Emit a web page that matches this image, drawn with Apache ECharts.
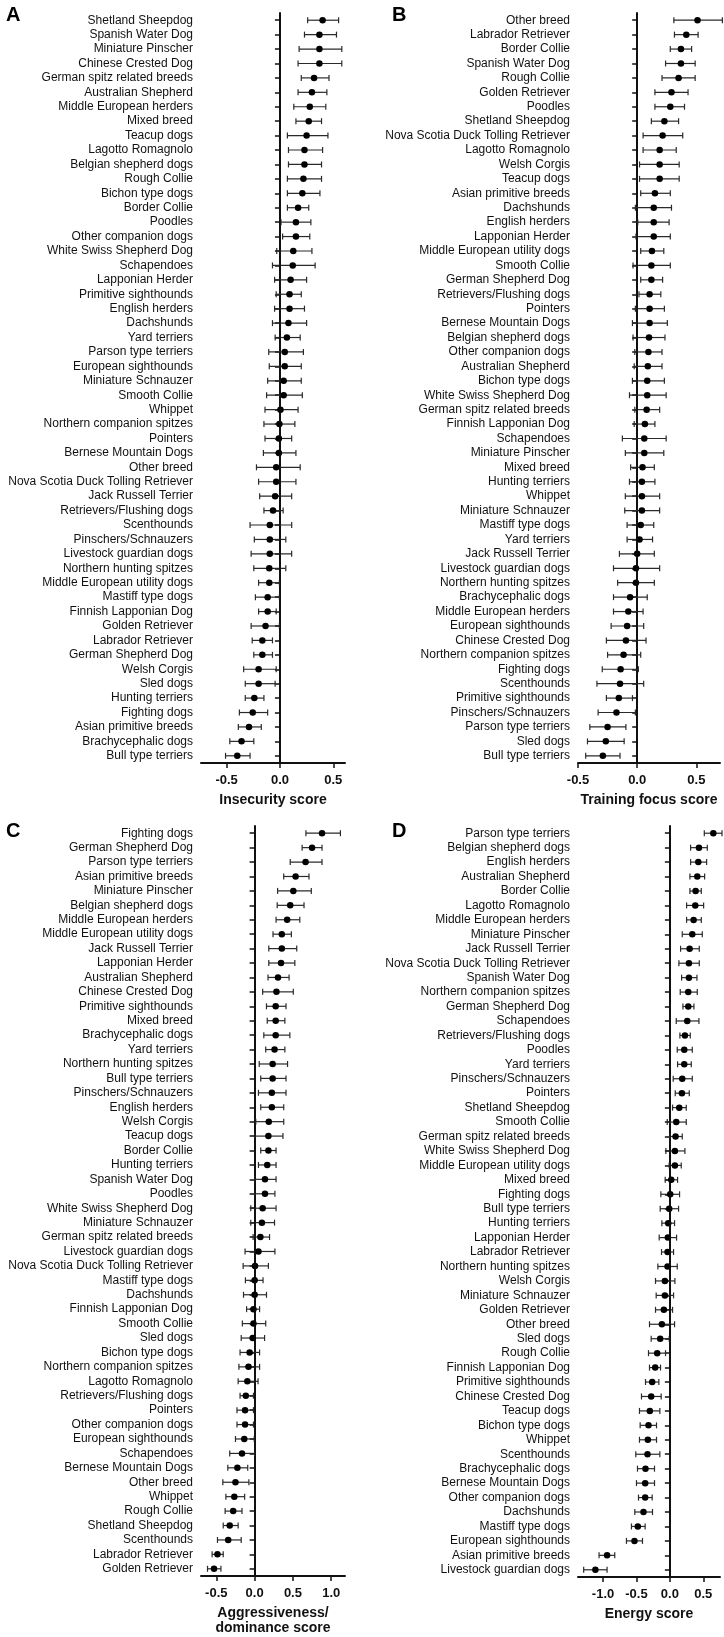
<!DOCTYPE html>
<html><head><meta charset="utf-8">
<script src="https://cdn.jsdelivr.net/npm/echarts@6/dist/echarts.min.js"></script>
<style>html,body{margin:0;padding:0;background:#fff}#c{width:724px;height:1637px}</style>
</head><body><div id="c"></div>
<script>
// ---------- Panel A: Insecurity score ----------
const catsA = ["Shetland Sheepdog","Spanish Water Dog","Miniature Pinscher","Chinese Crested Dog","German spitz related breeds","Australian Shepherd","Middle European herders","Mixed breed","Teacup dogs","Lagotto Romagnolo","Belgian shepherd dogs","Rough Collie","Bichon type dogs","Border Collie","Poodles","Other companion dogs","White Swiss Shepherd Dog","Schapendoes","Lapponian Herder","Primitive sighthounds","English herders","Dachshunds","Yard terriers","Parson type terriers","European sighthounds","Miniature Schnauzer","Smooth Collie","Whippet","Northern companion spitzes","Pointers","Bernese Mountain Dogs","Other breed","Nova Scotia Duck Tolling Retriever","Jack Russell Terrier","Retrievers/Flushing dogs","Scenthounds","Pinschers/Schnauzers","Livestock guardian dogs","Northern hunting spitzes","Middle European utility dogs","Mastiff type dogs","Finnish Lapponian Dog","Golden Retriever","Labrador Retriever","German Shepherd Dog","Welsh Corgis","Sled dogs","Hunting terriers","Fighting dogs","Asian primitive breeds","Brachycephalic dogs","Bull type terriers"];
const meanA = [0.40,0.37,0.37,0.37,0.32,0.30,0.28,0.27,0.25,0.23,0.23,0.22,0.21,0.17,0.15,0.15,0.125,0.12,0.10,0.09,0.09,0.08,0.065,0.045,0.045,0.035,0.035,0.005,-0.005,-0.01,-0.01,-0.035,-0.035,-0.045,-0.065,-0.095,-0.095,-0.095,-0.10,-0.10,-0.115,-0.115,-0.135,-0.165,-0.165,-0.20,-0.20,-0.24,-0.255,-0.29,-0.36,-0.40];
const loA = [0.26,0.23,0.18,0.17,0.20,0.17,0.13,0.15,0.07,0.08,0.08,0.07,0.07,0.07,0.01,0.025,-0.03,-0.07,-0.05,-0.035,-0.05,-0.07,-0.045,-0.105,-0.10,-0.115,-0.125,-0.14,-0.15,-0.14,-0.155,-0.22,-0.20,-0.19,-0.15,-0.28,-0.24,-0.27,-0.245,-0.20,-0.23,-0.20,-0.27,-0.26,-0.245,-0.34,-0.325,-0.325,-0.38,-0.39,-0.47,-0.51];
const hiA = [0.55,0.53,0.58,0.58,0.46,0.44,0.43,0.39,0.45,0.40,0.39,0.39,0.375,0.27,0.29,0.28,0.30,0.33,0.25,0.20,0.23,0.25,0.19,0.22,0.20,0.20,0.21,0.17,0.14,0.11,0.15,0.19,0.15,0.11,0.03,0.11,0.055,0.11,0.055,-0.005,-0.005,-0.035,-0.005,-0.07,-0.07,-0.035,-0.045,-0.15,-0.115,-0.175,-0.245,-0.28];
const ticksA = [-0.5,0,0.5];

// ---------- Panel B: Training focus score ----------
const catsB = ["Other breed","Labrador Retriever","Border Collie","Spanish Water Dog","Rough Collie","Golden Retriever","Poodles","Shetland Sheepdog","Nova Scotia Duck Tolling Retriever","Lagotto Romagnolo","Welsh Corgis","Teacup dogs","Asian primitive breeds","Dachshunds","English herders","Lapponian Herder","Middle European utility dogs","Smooth Collie","German Shepherd Dog","Retrievers/Flushing dogs","Pointers","Bernese Mountain Dogs","Belgian shepherd dogs","Other companion dogs","Australian Shepherd","Bichon type dogs","White Swiss Shepherd Dog","German spitz related breeds","Finnish Lapponian Dog","Schapendoes","Miniature Pinscher","Mixed breed","Hunting terriers","Whippet","Miniature Schnauzer","Mastiff type dogs","Yard terriers","Jack Russell Terrier","Livestock guardian dogs","Northern hunting spitzes","Brachycephalic dogs","Middle European herders","European sighthounds","Chinese Crested Dog","Northern companion spitzes","Fighting dogs","Scenthounds","Primitive sighthounds","Pinschers/Schnauzers","Parson type terriers","Sled dogs","Bull type terriers"];
const meanB = [0.51,0.415,0.37,0.37,0.35,0.29,0.28,0.23,0.215,0.19,0.19,0.19,0.15,0.14,0.14,0.14,0.125,0.12,0.12,0.105,0.105,0.105,0.10,0.095,0.09,0.085,0.085,0.08,0.065,0.06,0.06,0.045,0.04,0.04,0.04,0.03,0.02,0.0,-0.01,-0.01,-0.06,-0.075,-0.085,-0.095,-0.115,-0.14,-0.145,-0.155,-0.175,-0.25,-0.265,-0.29];
const loB = [0.31,0.315,0.28,0.24,0.21,0.15,0.15,0.12,0.05,0.05,0.02,0.02,0.03,-0.015,0.005,-0.01,0.03,-0.035,0.03,0.015,-0.015,-0.04,-0.035,-0.02,-0.025,-0.04,-0.065,-0.02,-0.025,-0.125,-0.10,-0.055,-0.065,-0.10,-0.105,-0.085,-0.085,-0.15,-0.20,-0.165,-0.20,-0.20,-0.22,-0.26,-0.25,-0.295,-0.34,-0.26,-0.33,-0.40,-0.42,-0.435];
const hiB = [0.72,0.515,0.46,0.49,0.49,0.43,0.40,0.35,0.385,0.33,0.355,0.355,0.28,0.29,0.27,0.28,0.225,0.28,0.215,0.20,0.23,0.255,0.235,0.21,0.21,0.23,0.245,0.19,0.15,0.245,0.225,0.145,0.15,0.19,0.19,0.14,0.13,0.145,0.19,0.145,0.085,0.05,0.055,0.075,0.03,0.01,0.055,-0.04,-0.015,-0.095,-0.11,-0.145];
const ticksB = [-0.5,0,0.5];

// ---------- Panel C: Aggressiveness/dominance score ----------
const catsC = ["Fighting dogs","German Shepherd Dog","Parson type terriers","Asian primitive breeds","Miniature Pinscher","Belgian shepherd dogs","Middle European herders","Middle European utility dogs","Jack Russell Terrier","Lapponian Herder","Australian Shepherd","Chinese Crested Dog","Primitive sighthounds","Mixed breed","Brachycephalic dogs","Yard terriers","Northern hunting spitzes","Bull type terriers","Pinschers/Schnauzers","English herders","Welsh Corgis","Teacup dogs","Border Collie","Hunting terriers","Spanish Water Dog","Poodles","White Swiss Shepherd Dog","Miniature Schnauzer","German spitz related breeds","Livestock guardian dogs","Nova Scotia Duck Tolling Retriever","Mastiff type dogs","Dachshunds","Finnish Lapponian Dog","Smooth Collie","Sled dogs","Bichon type dogs","Northern companion spitzes","Lagotto Romagnolo","Retrievers/Flushing dogs","Pointers","Other companion dogs","European sighthounds","Schapendoes","Bernese Mountain Dogs","Other breed","Whippet","Rough Collie","Shetland Sheepdog","Scenthounds","Labrador Retriever","Golden Retriever"];
const meanC = [0.88,0.75,0.665,0.535,0.505,0.465,0.425,0.355,0.355,0.345,0.305,0.285,0.275,0.275,0.275,0.26,0.235,0.235,0.225,0.225,0.185,0.18,0.18,0.165,0.135,0.135,0.105,0.095,0.075,0.05,0.005,0.0,0.0,-0.015,-0.015,-0.025,-0.065,-0.08,-0.095,-0.115,-0.125,-0.125,-0.135,-0.165,-0.225,-0.25,-0.265,-0.28,-0.325,-0.345,-0.485,-0.53];
const loC = [0.67,0.62,0.465,0.38,0.30,0.295,0.28,0.24,0.185,0.185,0.175,0.105,0.155,0.165,0.12,0.145,0.06,0.08,0.05,0.08,0.015,0.0,0.08,0.05,0.0,0.0,-0.05,-0.05,-0.02,-0.125,-0.15,-0.12,-0.145,-0.105,-0.16,-0.175,-0.19,-0.205,-0.215,-0.19,-0.23,-0.23,-0.25,-0.325,-0.35,-0.415,-0.375,-0.385,-0.41,-0.485,-0.555,-0.615];
const hiC = [1.12,0.88,0.88,0.71,0.74,0.645,0.59,0.48,0.55,0.525,0.45,0.505,0.41,0.395,0.46,0.395,0.43,0.41,0.41,0.38,0.38,0.37,0.28,0.28,0.28,0.265,0.28,0.26,0.195,0.265,0.18,0.11,0.155,0.065,0.145,0.13,0.065,0.065,0.045,-0.015,-0.015,-0.015,-0.005,0.0,-0.09,-0.075,-0.13,-0.165,-0.215,-0.175,-0.41,-0.44];
const ticksC = [-0.5,0,0.5,1.0];

// ---------- Panel D: Energy score ----------
const catsD = ["Parson type terriers","Belgian shepherd dogs","English herders","Australian Shepherd","Border Collie","Lagotto Romagnolo","Middle European herders","Miniature Pinscher","Jack Russell Terrier","Nova Scotia Duck Tolling Retriever","Spanish Water Dog","Northern companion spitzes","German Shepherd Dog","Schapendoes","Retrievers/Flushing dogs","Poodles","Yard terriers","Pinschers/Schnauzers","Pointers","Shetland Sheepdog","Smooth Collie","German spitz related breeds","White Swiss Shepherd Dog","Middle European utility dogs","Mixed breed","Fighting dogs","Bull type terriers","Hunting terriers","Lapponian Herder","Labrador Retriever","Northern hunting spitzes","Welsh Corgis","Miniature Schnauzer","Golden Retriever","Other breed","Sled dogs","Rough Collie","Finnish Lapponian Dog","Primitive sighthounds","Chinese Crested Dog","Teacup dogs","Bichon type dogs","Whippet","Scenthounds","Brachycephalic dogs","Bernese Mountain Dogs","Other companion dogs","Dachshunds","Mastiff type dogs","European sighthounds","Asian primitive breeds","Livestock guardian dogs"];
const meanD = [0.65,0.435,0.425,0.41,0.385,0.38,0.355,0.335,0.295,0.285,0.285,0.275,0.275,0.26,0.225,0.215,0.215,0.185,0.18,0.14,0.095,0.085,0.075,0.075,0.02,0.005,-0.01,-0.025,-0.03,-0.035,-0.035,-0.075,-0.075,-0.09,-0.12,-0.145,-0.19,-0.22,-0.265,-0.28,-0.30,-0.32,-0.33,-0.335,-0.365,-0.37,-0.37,-0.395,-0.48,-0.53,-0.94,-1.115];
const loD = [0.515,0.31,0.31,0.30,0.30,0.25,0.25,0.185,0.16,0.135,0.175,0.155,0.195,0.095,0.15,0.11,0.115,0.05,0.08,0.04,-0.04,0.0,-0.06,-0.01,-0.07,-0.135,-0.145,-0.12,-0.16,-0.125,-0.18,-0.215,-0.205,-0.215,-0.305,-0.28,-0.32,-0.305,-0.365,-0.425,-0.455,-0.445,-0.455,-0.51,-0.485,-0.50,-0.47,-0.525,-0.575,-0.65,-1.06,-1.29];
const hiD = [0.78,0.56,0.55,0.52,0.47,0.505,0.47,0.485,0.44,0.44,0.405,0.41,0.36,0.435,0.305,0.335,0.32,0.335,0.29,0.245,0.245,0.185,0.225,0.17,0.115,0.145,0.13,0.07,0.10,0.055,0.11,0.075,0.055,0.04,0.07,-0.01,-0.065,-0.14,-0.165,-0.13,-0.15,-0.20,-0.20,-0.15,-0.23,-0.23,-0.265,-0.26,-0.37,-0.41,-0.825,-0.94];
const ticksD = [-1.0,-0.5,0,0.5];

const panels = [
  {cats:catsA, mean:meanA, lo:loA, hi:hiA, ticks:ticksA, min:-0.74, max:0.61, title:"Insecurity score", grid:{left:201, top:13, width:144, height:750}},
  {cats:catsB, mean:meanB, lo:loB, hi:hiB, ticks:ticksB, min:-0.5, max:0.70, title:"Training focus score", grid:{left:578, top:13, width:142, height:750}},
  {cats:catsC, mean:meanC, lo:loC, hi:hiC, ticks:ticksC, min:-0.70, max:1.18, title:"Aggressiveness/\ndominance score", grid:{left:201, top:826, width:144, height:751}},
  {cats:catsD, mean:meanD, lo:loD, hi:hiD, ticks:ticksD, min:-1.375, max:0.75, title:"Energy score", grid:{left:578, top:826, width:142, height:751}}
];

const INK = '#111';
function renderErr(params, api){
  const y = api.value(2);
  const a = api.coord([api.value(0), y]);
  const b = api.coord([api.value(1), y]);
  const cap = 3;
  const st = {stroke:'#2a2a2a', lineWidth:1.2};
  return {type:'group', children:[
    {type:'line', shape:{x1:a[0],y1:a[1],x2:b[0],y2:b[1]}, style:st},
    {type:'line', shape:{x1:a[0],y1:a[1]-cap,x2:a[0],y2:a[1]+cap}, style:st},
    {type:'line', shape:{x1:b[0],y1:b[1]-cap,x2:b[0],y2:b[1]+cap}, style:st}
  ]};
}

const grid=[], xAxis=[], yAxis=[], series=[];
panels.forEach((p,i)=>{
  grid.push(p.grid);
  xAxis.push({
    type:'value', gridIndex:i, min:p.min, max:p.max,
    axisLine:{show:true, onZero:false, lineStyle:{color:INK, width:2}},
    axisTick:{show:true, length:5, customValues:p.ticks, lineStyle:{color:INK, width:1.5}},
    axisLabel:{customValues:p.ticks, formatter:v=>v.toFixed(1), fontFamily:'Liberation Sans, Arial', fontWeight:'bold', fontSize:13, color:INK, margin:11},
    splitLine:{show:false},
    name:p.title, nameLocation:'middle', nameGap:30,
    nameTextStyle:{fontFamily:'Liberation Sans, Arial', fontWeight:'bold', fontSize:14, color:INK, lineHeight:15, verticalAlign:'top'}
  });
  yAxis.push({
    type:'category', gridIndex:i, data:p.cats, inverse:true,
    axisLine:{show:true, lineStyle:{color:INK, width:2}},
    axisTick:{show:true, alignWithLabel:true, length:5, lineStyle:{color:INK, width:1.5}},
    axisLabel:{fontFamily:'Liberation Sans, Arial', fontSize:12, color:INK, margin:8, interval:0},
    splitLine:{show:false}
  });
  series.push({
    type:'custom', xAxisIndex:i, yAxisIndex:i, renderItem:renderErr, clip:false,
    encode:{x:[0,1], y:2}, z:2,
    data:p.cats.map((c,k)=>[p.lo[k], p.hi[k], k])
  });
  series.push({
    type:'scatter', xAxisIndex:i, yAxisIndex:i, symbolSize:6.5, z:3,
    itemStyle:{color:'#000', opacity:1},
    data:p.cats.map((c,k)=>[p.mean[k], c]),
    markLine:{silent:true, symbol:['none','none'], label:{show:false},
      lineStyle:{type:'dotted', color:INK, width:1.5}, data:[{xAxis:0}], animation:false}
  });
});

const chart = echarts.init(document.getElementById('c'), null, {renderer:'canvas'});
chart.setOption({
  animation:false, backgroundColor:'#fff',
  grid, xAxis, yAxis, series,
  graphic:[
    {type:'text', left:6, top:5, style:{text:'A', font:'bold 20px "Liberation Sans", Arial', fill:'#000'}},
    {type:'text', left:392, top:5, style:{text:'B', font:'bold 20px "Liberation Sans", Arial', fill:'#000'}},
    {type:'text', left:6, top:821, style:{text:'C', font:'bold 20px "Liberation Sans", Arial', fill:'#000'}},
    {type:'text', left:392, top:821, style:{text:'D', font:'bold 20px "Liberation Sans", Arial', fill:'#000'}}
  ]
});
</script></body></html>
